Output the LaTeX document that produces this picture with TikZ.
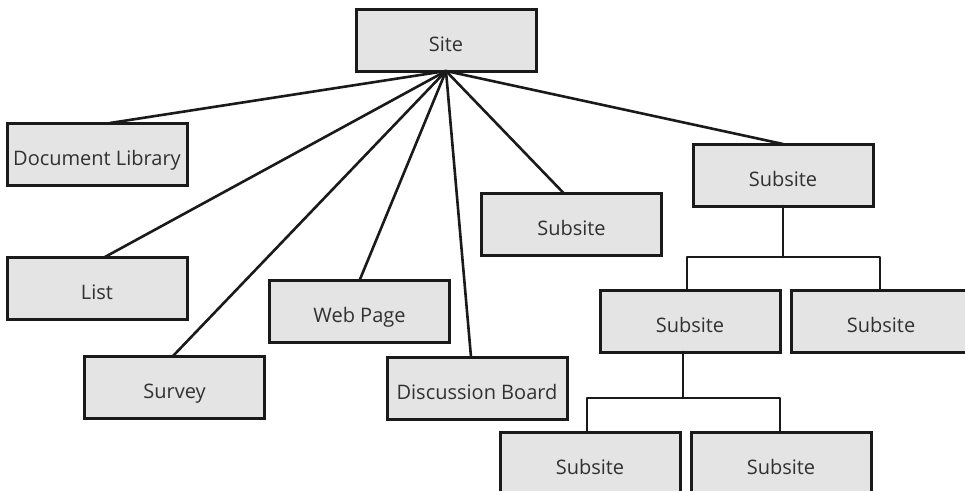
\documentclass[tikz,border=0pt]{standalone}
\usepackage{fontspec}
\setmainfont{Open Sans}
\definecolor{boxfill}{HTML}{E3E4E3}
\definecolor{ink}{HTML}{1A1A1A}
\tikzset{
  box/.style={draw=ink, fill=boxfill, line width=3pt, minimum width=180pt, minimum height=62pt,
    inner sep=0pt, outer sep=0pt, text height=22pt, text depth=0pt,
    font=\fontsize{20}{24}\selectfont, text=ink!90},
  conn/.style={draw=ink, line width=2.6pt, line cap=round, line join=round}
}
\begin{document}
\begin{tikzpicture}[x=1pt,y=-1pt]
\useasboundingbox (0,0) rectangle (965,490);
\clip (0,0) rectangle (965,490);
\node[box] (site) at (446,40) {Site};
\node[box] (doclib) at (97,154) {Document Library};
\node[box] (list) at (97,288.5) {List};
\node[box] (survey) at (174.5,387) {Survey};
\node[box] (webpage) at (359.5,311.5) {Web Page};
\node[box] (disc) at (477,388) {Discussion Board};
\node[box] (subA) at (571.5,224.5) {Subsite};
\node[box] (subB) at (783,175) {Subsite};
\node[box] (subC) at (690,321) {Subsite};
\node[box] (subD) at (881,321) {Subsite};
\node[box] (subE) at (590,463) {Subsite};
\node[box] (subF) at (781,463) {Subsite};
\coordinate (hub) at (site.south);
\draw[conn] (hub) -- ([xshift=13pt]doclib.north);
\draw[conn] (hub) -- ([xshift=7pt]list.north);
\draw[conn] (hub) -- ([xshift=-1.5pt]survey.north);
\draw[conn] (hub) -- (webpage.north);
\draw[conn] (hub) -- ([xshift=-6pt]disc.north);
\draw[conn] (hub) -- ([xshift=-7.5pt]subA.north);
\draw[conn] (hub) -- (subB.north);
\draw[conn] (subB.south) -- ++(0,51) coordinate (j1);
\draw[conn, line cap=butt] ([xshift=-3pt]subC.north) |- (j1) -| ([xshift=-1pt]subD.north);
\draw[conn] ([xshift=-7pt]subC.south) -- ++(0,46) coordinate (j2);
\draw[conn, line cap=butt] ([xshift=-3pt]subE.north) |- (j2) -| ([xshift=-1pt]subF.north);
\end{tikzpicture}
\end{document}
